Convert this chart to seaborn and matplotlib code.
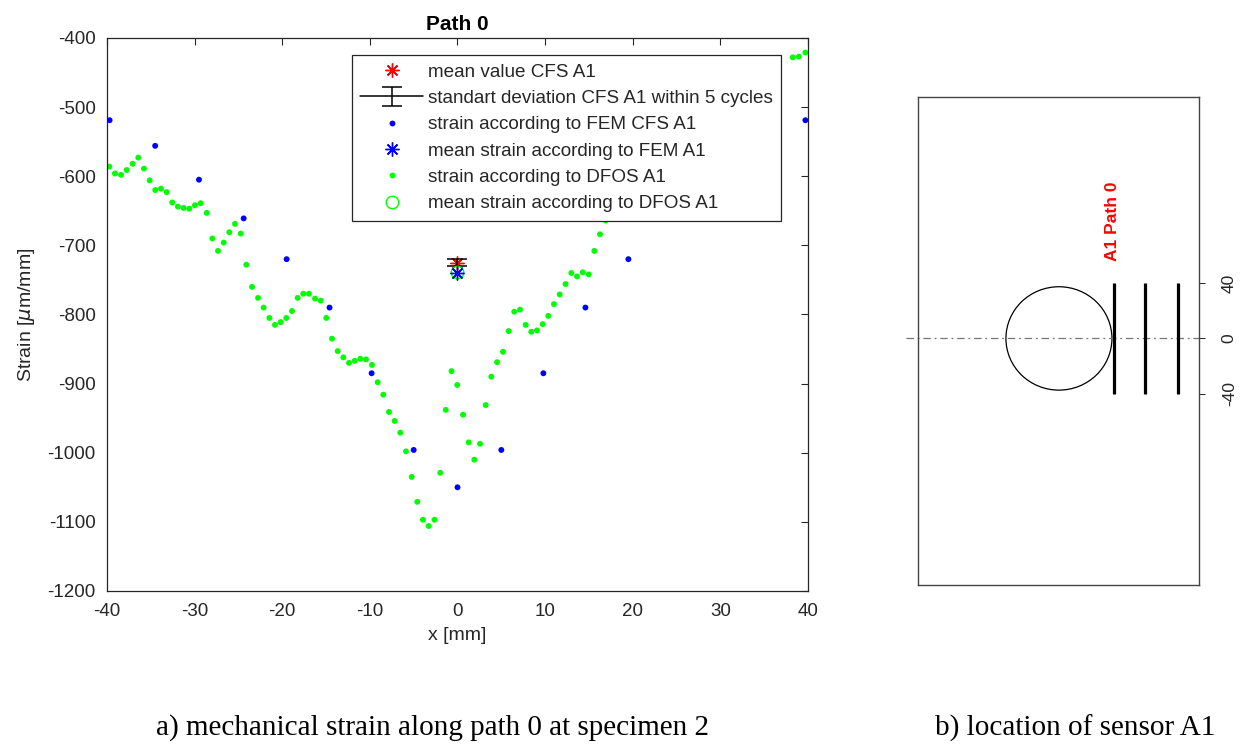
import numpy as np
import pandas as pd
import matplotlib
matplotlib.use("Agg")
import matplotlib.pyplot as plt
from matplotlib.patches import Ellipse
from matplotlib.lines import Line2D
import seaborn as sns

sns.set_theme(style="white")
plt.rcParams['font.family'] = ['Liberation Sans', 'DejaVu Sans']
plt.rcParams['mathtext.fontset'] = 'dejavusans'
plt.rcParams['axes.unicode_minus'] = False

# ---------------- data ----------------
dfos_x = [-39.74, -39.09, -38.40, -37.75, -37.07, -36.43, -35.78, -35.13, -34.49, -33.84,
          -33.19, -32.55, -31.90, -31.25, -30.61, -29.96, -29.31, -28.62, -27.98, -27.33,
          -26.68, -26.04, -25.39, -24.74, -24.10, -23.45, -22.76, -22.12, -21.47, -20.83,
          -20.18, -19.54, -18.89, -18.24, -17.60, -16.95, -16.26, -15.61, -14.97, -14.32,
          -13.67, -13.03, -12.38, -11.73, -11.09, -10.44, -9.76, -9.11, -8.47, -7.82,
          -7.17, -6.53, -5.88, -5.23, -4.59, -3.94, -3.29, -2.62, -1.97, -1.34,
          -0.68, -0.03, 0.63, 1.28, 1.92, 2.57, 3.22, 3.86, 4.51, 5.19,
          5.84, 6.48, 7.13, 7.78, 8.42, 9.07, 9.72, 10.36, 11.01, 11.66,
          12.33, 12.99, 13.64, 14.29, 14.97, 15.61, 16.26, 16.91,
          38.26, 38.95, 39.70]
dfos_strain = [-586, -596, -598, -591, -582, -573, -589, -606, -620, -618,
               -623, -638, -644, -646, -647, -642, -639, -653, -690, -708,
               -696, -681, -669, -683, -728, -760, -776, -790, -805, -815,
               -811, -805, -795, -776, -770, -770, -777, -780, -805, -835,
               -853, -862, -870, -867, -864, -865, -873, -898, -916, -941,
               -954, -971, -998, -1035, -1071, -1097, -1106, -1097, -1029, -938,
               -882, -902, -945, -985, -1010, -987, -931, -890, -869, -854,
               -824, -796, -793, -815, -825, -823, -814, -802, -785, -771,
               -756, -740, -745, -739, -742, -708, -684, -664,
               -428, -427, -421]

fem_x = [-39.7, -34.5, -29.5, -24.4, -19.5, -14.6, -9.8, -5.0, 0.0,
         5.0, 9.8, 14.6, 19.5, 24.5, 29.5, 34.5, 39.7]
fem_strain = [-519, -556, -605, -661, -720, -790, -885, -996, -1050,
              -996, -885, -790, -720, -662, -605, -556, -519]

cfs_x = [0.0]
cfs_mean = [-725]
cfs_std = [5]
fem_mean = [-740]
dfos_mean = [-738]

labels = ["mean value CFS A1",
          "standart deviation CFS A1 within 5 cycles",
          "strain according to FEM CFS A1",
          "mean strain according to FEM A1",
          "strain according to DFOS A1",
          "mean strain according to DFOS A1"]

# schematic of specimen (mm)
path_x = [141.3, 163.6, 187.6]
path_half_len = 40
hole_center = (101.6, 0.0)
hole_diam = (76.4, 74.5)
spec_tick_vals = [40, 0, -40]
spec_tick_labels = ["40", "0", "-40"]

dfos_df = pd.DataFrame({"x": dfos_x, "strain": dfos_strain})
fem_df = pd.DataFrame({"x": fem_x, "strain": fem_strain})

TXT = "#262626"
fig = plt.figure(figsize=(12.41, 7.46), dpi=100)
ax = fig.add_axes([0.0862, 0.2078, 0.5649, 0.7413])

red_h, = ax.plot(cfs_x, cfs_mean, linestyle="none", marker=(8, 2, 0), markersize=10,
                 color="red", mew=1.0, zorder=3)
eb = ax.errorbar(cfs_x, cfs_mean, yerr=cfs_std, fmt="-", color="black", capsize=7,
                 elinewidth=1.1, capthick=1.1, lw=1.1, zorder=4)
sns.scatterplot(data=fem_df, x="x", y="strain", color="blue", s=18, edgecolor="none",
                ax=ax, zorder=3, legend=False)
sns.scatterplot(data=dfos_df, x="x", y="strain", color="#00ff00", s=18, edgecolor="none",
                ax=ax, zorder=2, legend=False)
green_o, = ax.plot(cfs_x, dfos_mean, linestyle="none", marker="o", markersize=9,
                   mfc="none", mec="#00ff00", mew=1.0, zorder=5)
blue_s, = ax.plot(cfs_x, fem_mean, linestyle="none", marker=(8, 2, 0), markersize=10,
                  color="blue", mew=1.0, zorder=6)

fem_h = Line2D([], [], linestyle="none", marker="o", markersize=4.2, color="blue", mec="none")
dfos_h = Line2D([], [], linestyle="none", marker="o", markersize=4.2, color="#00ff00", mec="none")

ax.set_xlim(-40, 40)
ax.set_ylim(-1200, -400)
ax.set_xticks(np.arange(-40, 41, 10))
ax.set_yticks(np.arange(-1200, -399, 100))
ax.tick_params(direction="in", top=True, right=True, length=5, width=0.8,
               colors=TXT, labelsize=13.5)
ax.tick_params(axis="x", pad=9)
ax.tick_params(axis="y", pad=8)
for s in ax.spines.values():
    s.set_color(TXT)
    s.set_linewidth(0.9)
ax.set_xlabel("x [mm]", fontsize=14, color=TXT, labelpad=5)
ax.set_ylabel("Strain [$\\mu$m/mm]", fontsize=14, color=TXT, labelpad=8)
ax.set_title("Path 0", fontsize=15, fontweight="bold", color="black", pad=6)

leg = ax.legend([red_h, eb, fem_h, blue_s, dfos_h, green_o], labels,
                loc="upper left", bbox_to_anchor=(0.3495, 0.9693), borderaxespad=0,
                fontsize=13.6, frameon=True, fancybox=False, framealpha=1,
                edgecolor=TXT, handlelength=3.3, handletextpad=0.28,
                labelspacing=0.48, borderpad=0.45)
leg.get_frame().set_linewidth(0.9)
for t in leg.get_texts():
    t.set_color(TXT)

# ---------------- specimen schematic ----------------
ax2 = fig.add_axes([0.7397, 0.2158, 0.2264, 0.6542])
ax2.set_xlim(0, 202.5)
ax2.set_ylim(-177.7, 174)
ax2.set_facecolor("white")
ax2.plot([-8.6, 202.5], [0, 0], color="#777777", lw=0.9,
         linestyle=(0, (6, 3, 1.5, 3)), clip_on=False)
ax2.add_patch(Ellipse(hole_center, hole_diam[0], hole_diam[1], fill=False,
                      edgecolor="black", lw=0.9))
for px in path_x:
    ax2.plot([px, px], [-path_half_len, path_half_len], color="black", lw=2.3,
             solid_capstyle="butt")
ax2.text(140.5, 84.7, "A1 Path 0", color="red", fontweight="bold", fontsize=12.5,
         rotation=90, ha="center", va="center")
ax2.set_xticks([])
ax2.yaxis.tick_right()
ax2.set_yticks(spec_tick_vals)
ax2.set_yticklabels(spec_tick_labels, rotation=90, va="center")
ax2.tick_params(axis="y", direction="out", length=4.5, width=0.7, colors=TXT,
                labelsize=12.5, pad=12, left=False)
for s in ax2.spines.values():
    s.set_color("#444444")
    s.set_linewidth(1.0)

# ---------------- captions ----------------
fig.text(432 / 1241, 1 - 728 / 746, "a) mechanical strain along path 0 at specimen 2",
         family=["Liberation Serif", "DejaVu Serif"], fontsize=21, ha="center",
         va="center", color="black")
fig.text(1075 / 1241, 1 - 728 / 746, "b) location of sensor A1",
         family=["Liberation Serif", "DejaVu Serif"], fontsize=21, ha="center",
         va="center", color="black")

fig.savefig("out.png", dpi=100, facecolor="white")
